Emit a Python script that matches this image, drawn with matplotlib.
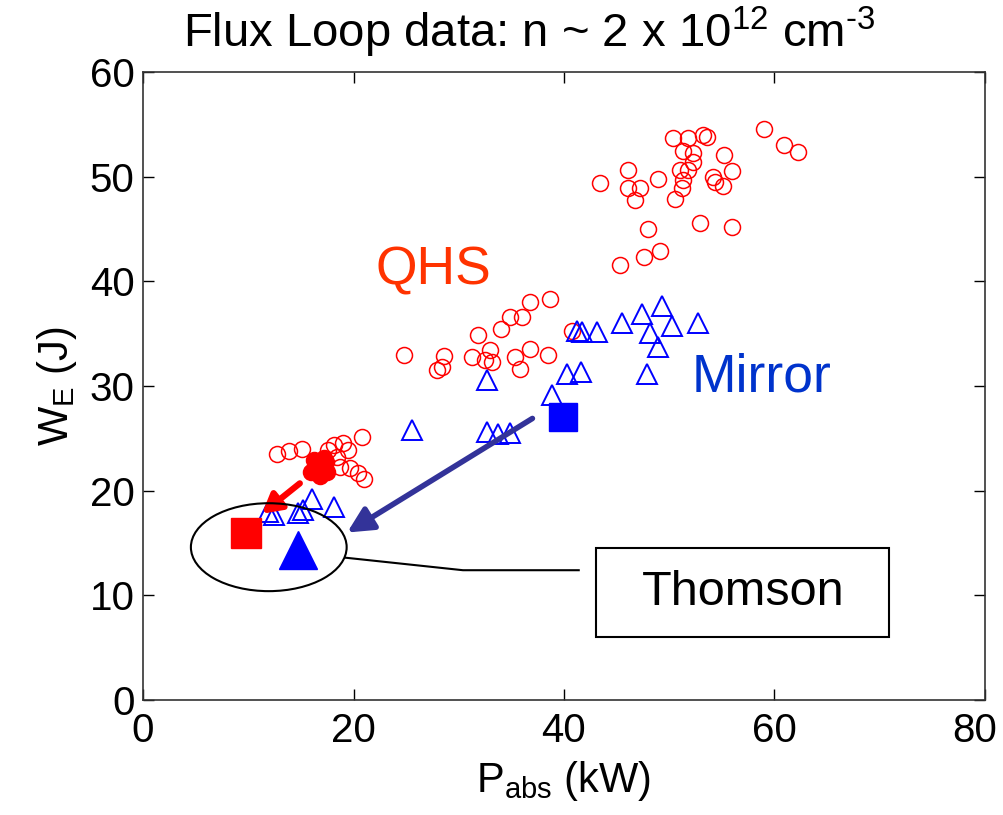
import matplotlib
matplotlib.use("Agg")
import matplotlib.pyplot as plt
from matplotlib.patches import Ellipse, Rectangle
from matplotlib.transforms import ScaledTranslation

# ---- data ----
qhs_x = [12.7, 13.9, 15.1, 17.6, 18.1, 18.4, 18.7, 19.0, 19.5, 19.7, 20.4, 20.8, 21.0,
         24.8, 27.9, 28.4, 28.6, 31.3, 31.8, 32.5, 33.0, 33.2, 34.0, 34.9, 35.3, 35.8,
         36.0, 36.8, 36.8, 38.5, 38.7, 40.8,
         43.4, 45.3, 46.1, 46.1, 46.7, 47.2, 47.6, 48.0, 48.9, 49.1, 50.4, 50.5, 51.0,
         51.2, 51.3, 51.3, 51.8, 51.8, 52.3, 52.3, 52.9, 53.2, 53.6, 54.2, 54.3, 55.1,
         55.2, 56.0, 56.0, 59.0, 60.9, 62.2]
qhs_y = [23.5, 23.8, 24.0, 23.9, 24.4, 23.2, 22.3, 24.6, 23.9, 22.2, 21.7, 25.1, 21.1,
         33.0, 31.5, 31.8, 32.9, 32.8, 34.9, 32.5, 33.4, 32.3, 35.4, 36.6, 32.8, 31.6,
         36.6, 38.0, 33.5, 33.0, 38.3, 35.3,
         49.4, 41.6, 50.6, 48.9, 47.8, 48.9, 42.3, 45.0, 49.8, 42.9, 53.7, 47.9, 50.6,
         48.9, 52.5, 49.7, 53.7, 50.6, 52.3, 51.4, 45.6, 54.0, 53.8, 50.0, 49.5, 49.1,
         52.1, 50.5, 45.2, 54.6, 53.0, 52.4]

qhs_fill_x = [16.0, 16.5, 17.0, 17.4, 16.8, 17.5, 16.2, 17.2]
qhs_fill_y = [21.8, 22.5, 22.0, 22.7, 21.4, 21.8, 22.9, 23.1]

mir_x = [11.9, 12.4, 14.7, 15.2, 16.1, 18.1, 25.6, 32.7, 32.7, 33.7, 34.9, 38.9, 40.3,
         41.2, 41.7, 41.6, 43.1, 45.5, 47.4, 47.9, 48.2, 48.9, 49.3, 50.3, 52.7]
mir_y = [18.0, 17.7, 17.9, 18.2, 19.2, 18.4, 25.8, 30.6, 25.6, 25.4, 25.5, 29.1, 31.1,
         35.3, 35.2, 31.3, 35.2, 36.0, 36.9, 31.1, 35.1, 33.7, 37.6, 35.7, 36.0]

thomson_qhs = (9.8, 16.0)
thomson_mir = (14.7, 14.3)
mirror_big = (39.9, 27.0)

xticks = [0, 20, 40, 60, 80]
yticks = [0, 10, 20, 30, 40, 50, 60]

plt.rcParams['font.family'] = ['Liberation Sans', 'DejaVu Sans']
plt.rcParams['mathtext.fontset'] = 'custom'
plt.rcParams['mathtext.rm'] = 'Liberation Sans'
plt.rcParams['mathtext.it'] = 'Liberation Sans'

fig = plt.figure(figsize=(10.04, 8.15), dpi=100)
ax = fig.add_axes([143/1004, 1-700/815, (985-143)/1004, (700-72)/815])

ax.plot(qhs_x, qhs_y, 'o', mfc='none', mec='#ff0000', ms=11.5, mew=1.1, zorder=3)
ax.plot(qhs_fill_x, qhs_fill_y, 'o', mfc='#ff0000', mec='#ff0000', ms=11.5, mew=1.1, zorder=3)
ax.plot(mir_x, mir_y, '^', mfc='none', mec='#0000ff', ms=14.5, mew=1.4, zorder=4)

ax.plot([thomson_qhs[0]], [thomson_qhs[1]], 's', color='#ff0000', ms=21.5, zorder=5)
ax.plot([thomson_mir[0]], [thomson_mir[1]], '^', color='#0000ff', ms=27, zorder=5)
ax.plot([mirror_big[0]], [mirror_big[1]], 's', color='#0000ff', ms=20.5, zorder=5)

# arrows
ax.annotate('', xy=(11.3, 17.8), xytext=(14.9, 20.7),
            arrowprops=dict(arrowstyle='-|>,head_length=0.8,head_width=0.45',
                            color='#ff0000', lw=4.5, shrinkA=0, shrinkB=0,
                            mutation_scale=14), zorder=6)
ax.annotate('', xy=(19.4, 16.0), xytext=(37.0, 26.9),
            arrowprops=dict(arrowstyle='-|>,head_length=0.9,head_width=0.45',
                            color='#333399', lw=4, shrinkA=0, shrinkB=0,
                            mutation_scale=17), zorder=6)

# ellipse and Thomson callout
ax.add_patch(Ellipse((11.95, 14.6), 14.8, 8.4, fill=False, ec='black', lw=1.5, zorder=6))
ax.plot([19.2, 30.4, 41.4], [13.6, 12.4, 12.4], color='black', lw=1.5, zorder=6)
ax.add_patch(Rectangle((43.0, 6.0), 27.9, 8.5, fill=False, ec='black', lw=1.5, zorder=6))
ax.text(57.0, 10.3, 'Thomson', fontsize=35, ha='center', va='center', color='black')

ax.text(27.55, 41.0, 'QHS', fontsize=38.5, color='#ff3300', ha='center', va='center')
ax.text(58.8, 30.8, 'Mirror', fontsize=38.5, color='#0033cc', ha='center', va='center')

ax.set_xlim(0, 80)
ax.set_ylim(0, 60)
ax.set_xticks(xticks)
ax.set_yticks(yticks)
ax.tick_params(direction='in', length=8, width=1, labelsize=29, top=True, right=True,
               pad=6)
ax.tick_params(axis='x', pad=9)
for s in ax.spines.values():
    s.set_linewidth(1.2)
    s.set_color('#333333')

# nudge the last x tick label so it stays inside the figure (as in the reference)
last = ax.get_xticklabels()[-1]
last.set_transform(last.get_transform() + ScaledTranslation(-10/100, 0, fig.dpi_scale_trans))

ax.set_xlabel(r'P$_{\mathregular{abs}}$ (kW)', fontsize=30, labelpad=6)
ax.set_ylabel(r'W$_{\mathregular{E}}$ (J)', fontsize=30, labelpad=8)

fig.text(529/1004, 1-32/815, r'Flux Loop data: n ~ 2 x 10$^{12}$ cm$^{\text{-3}}$',
         fontsize=34, ha='center', va='center')

fig.savefig('out.png', dpi=100)
